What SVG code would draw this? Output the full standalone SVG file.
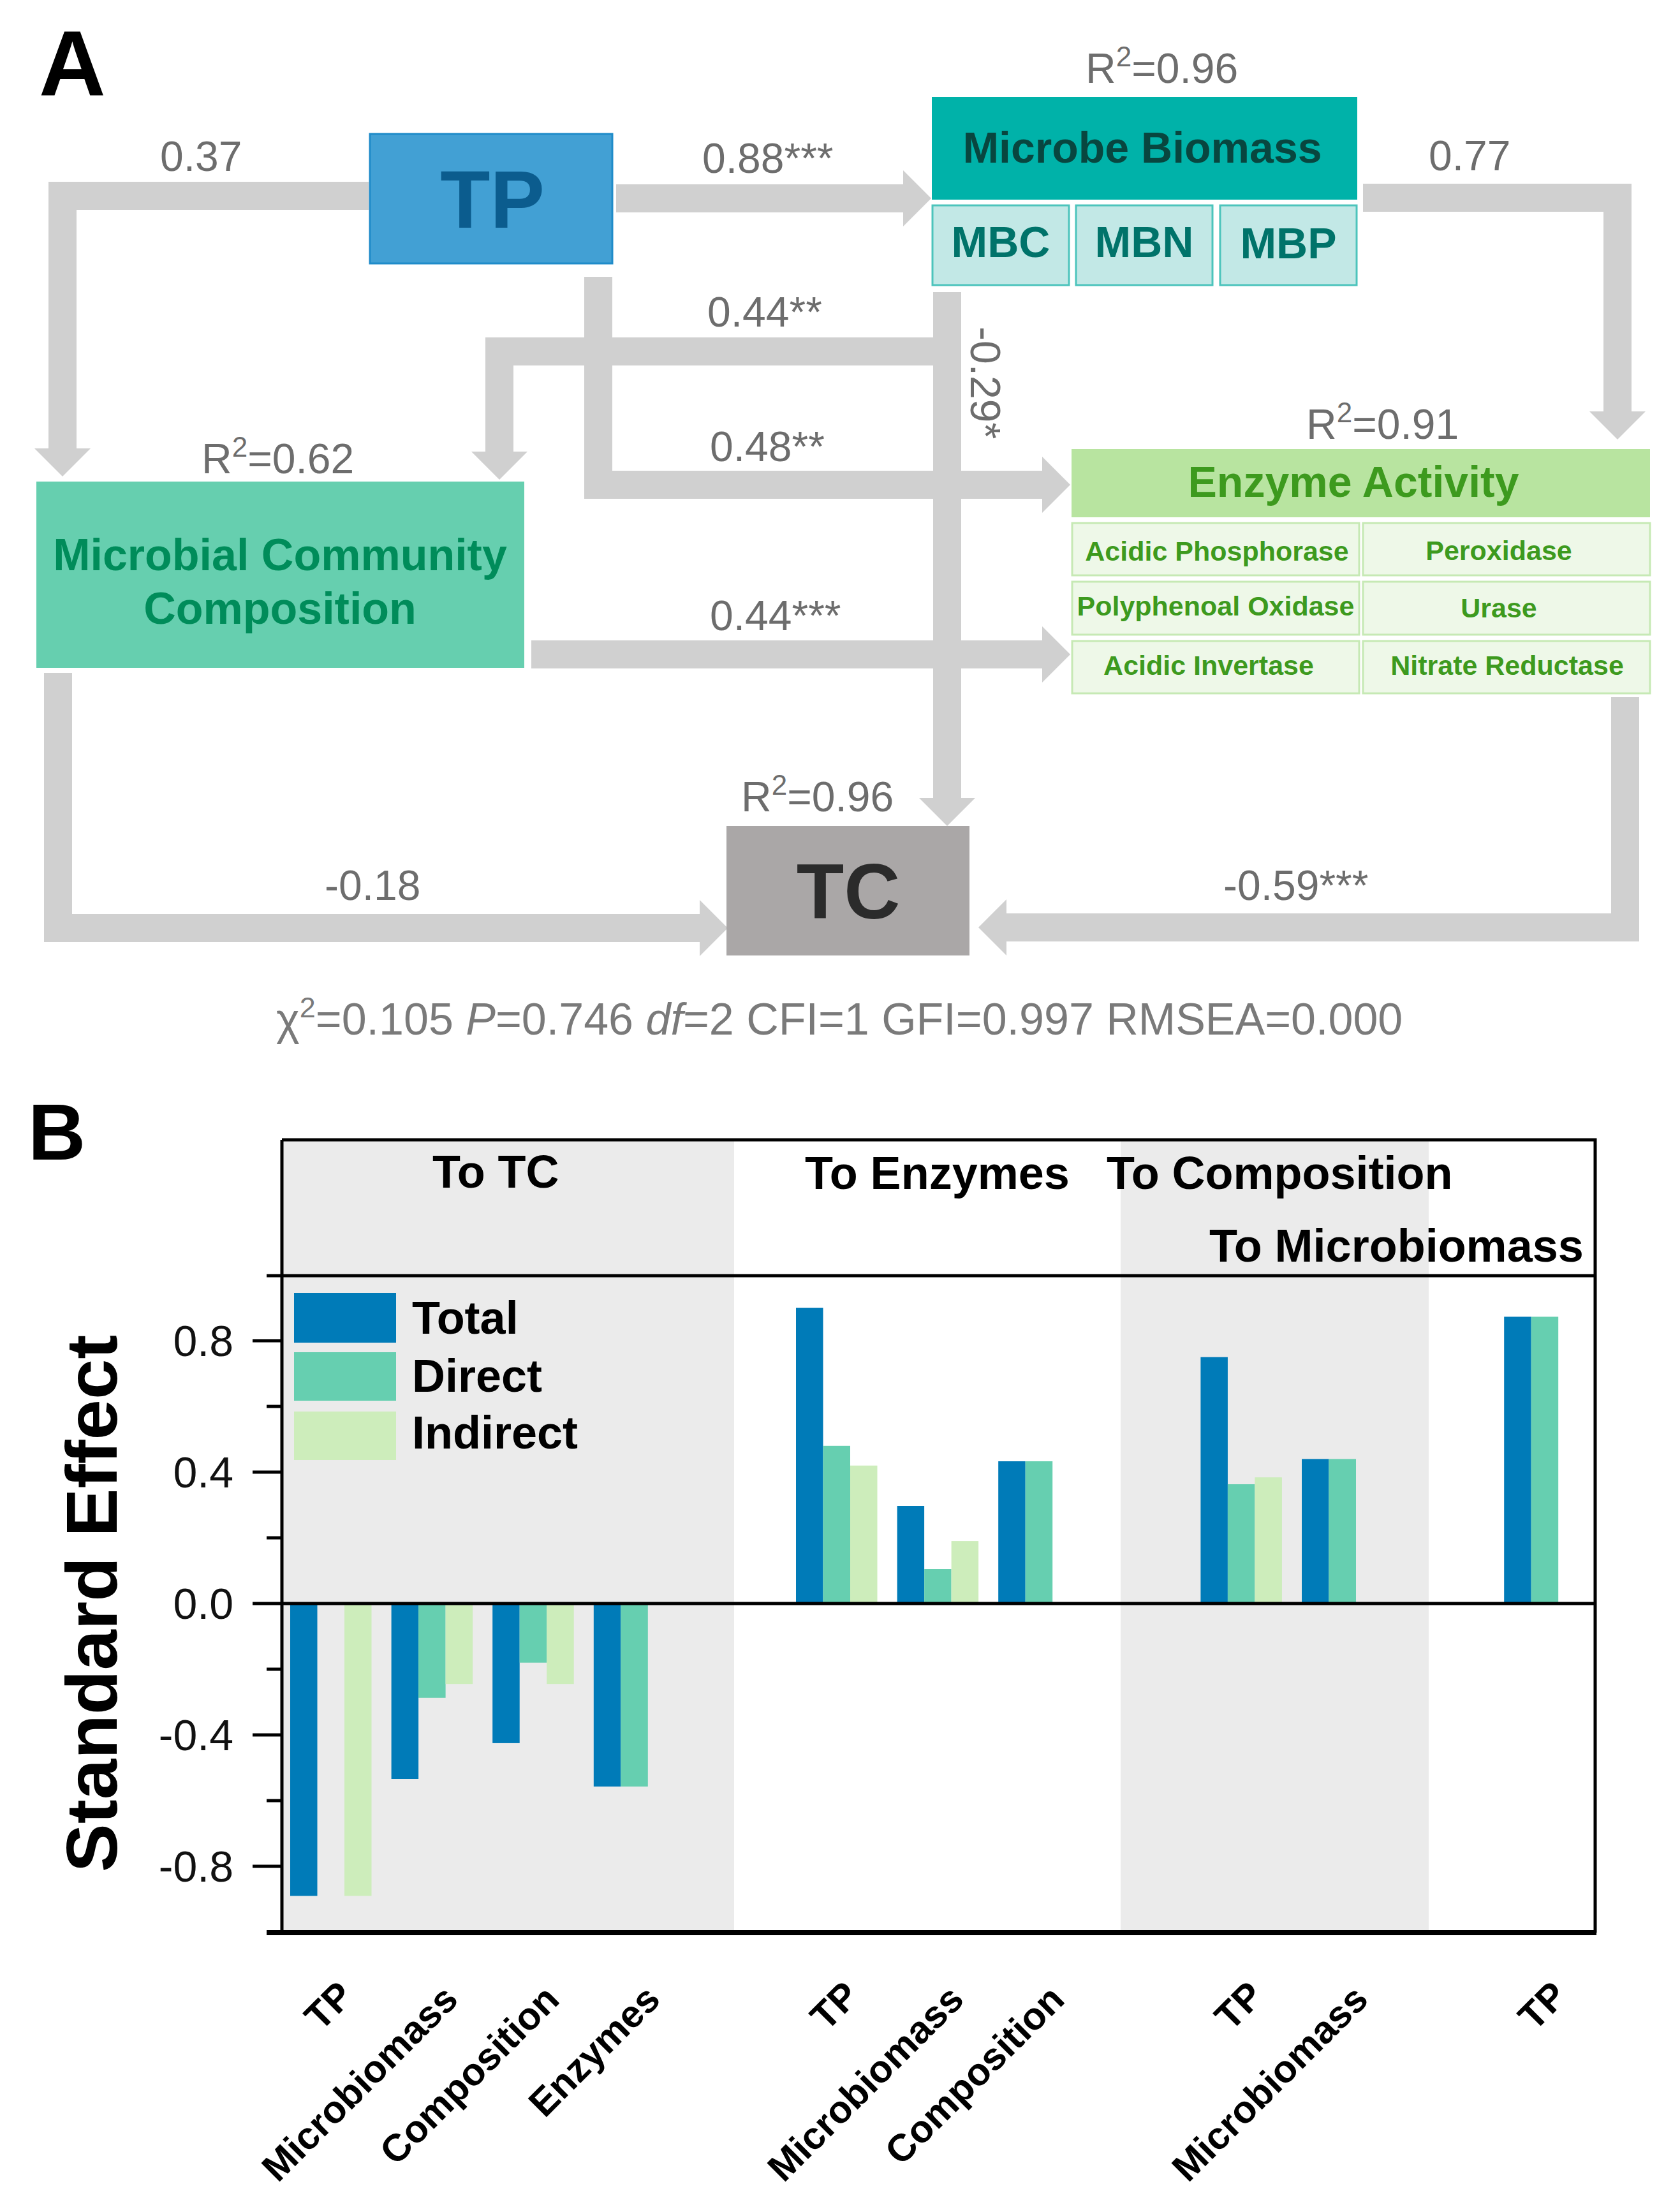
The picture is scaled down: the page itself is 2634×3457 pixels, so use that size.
<svg xmlns="http://www.w3.org/2000/svg" width="2634" height="3457" viewBox="0 0 2634 3457">
<style>
text{font-family:"Liberation Sans",Arial,sans-serif}
.lbl{font-size:66px;fill:#6d6d6d}
.b{font-weight:bold}
.conn{fill:none;stroke:#d0d0d0;stroke-width:44;stroke-linejoin:miter}
.sub{fill:#eef8e8;stroke:#c6e9b4;stroke-width:3}
.mb{fill:#c2e8e6;stroke:#4cc4bc;stroke-width:3}
.et{font-size:43px;font-weight:bold;fill:#3d9a1e;text-anchor:middle}
.mt{font-size:68px;font-weight:bold;fill:#00736a;text-anchor:middle}
.tick{font-size:68px;fill:#111;text-anchor:end}
.hdr{font-size:72px;font-weight:bold;fill:#000}
.xl{font-size:60px;font-weight:bold;fill:#000;text-anchor:end}
.tot{fill:#007bb8}
.dir{fill:#66cfb0}
.ind{fill:#cdedbb}
.shade{fill:#ebebeb}
.ax{stroke:#000;stroke-width:5;fill:none}
</style>
<defs>
<marker id="ah" markerUnits="userSpaceOnUse" markerWidth="46" markerHeight="90" refX="0" refY="44" orient="auto" viewBox="0 0 46 90">
<path d="M0,0 L44,44 L0,88 Z" fill="#d0d0d0"/>
</marker>
</defs>
<rect width="2634" height="3457" fill="#fff"/>

<!-- Panel A -->
<text x="61" y="149" font-size="145" font-weight="bold" fill="#000">A</text>

<g id="connectors">
<path class="conn" d="M578,307 H98 V703" marker-end="url(#ah)"/>
<path class="conn" d="M966,311 H1416" marker-end="url(#ah)"/>
<path class="conn" d="M938,434 V760 H1634" marker-end="url(#ah)"/>
<path class="conn" d="M1485,458 V1251" marker-end="url(#ah)"/>
<path class="conn" d="M1485,551 H783 V708" marker-end="url(#ah)"/>
<path class="conn" d="M833,1026 H1634" marker-end="url(#ah)"/>
<path class="conn" d="M2137,310 H2536 V645" marker-end="url(#ah)"/>
<path class="conn" d="M91,1055 V1455 H1097" marker-end="url(#ah)"/>
<path class="conn" d="M2548,1093 V1454 H1578" marker-end="url(#ah)"/>
</g>

<g id="edge-labels">
<text class="lbl" x="251" y="268">0.37</text>
<text class="lbl" x="1101" y="271">0.88***</text>
<text class="lbl" x="2240" y="267">0.77</text>
<text class="lbl" x="1109" y="512">0.44**</text>
<text class="lbl" x="1113" y="723">0.48**</text>
<text class="lbl" transform="translate(1522,512) rotate(90)">-0.29*</text>
<text class="lbl" x="1113" y="988">0.44***</text>
<text class="lbl" x="509" y="1411">-0.18</text>
<text class="lbl" x="1918" y="1411">-0.59***</text>
</g>

<g id="node-tp">
<rect x="580" y="210" width="380" height="203" fill="#42a0d4" stroke="#1f8bc9" stroke-width="3"/>
<text x="772" y="357" font-size="128" font-weight="bold" fill="#0b5c8e" text-anchor="middle">TP</text>
</g>

<g id="node-microbe-biomass">
<text class="lbl" x="1702" y="130">R<tspan font-size="44" dy="-26">2</tspan><tspan dy="26">=0.96</tspan></text>
<rect x="1461" y="152" width="667" height="161" fill="#00b2a9"/>
<text x="1791" y="255" font-size="68" font-weight="bold" fill="#08463f" text-anchor="middle">Microbe Biomass</text>
<rect class="mb" x="1462" y="322" width="214" height="125"/>
<rect class="mb" x="1687" y="322" width="214" height="125"/>
<rect class="mb" x="1913" y="322" width="214" height="125"/>
<text class="mt" x="1569" y="403">MBC</text>
<text class="mt" x="1794" y="403">MBN</text>
<text class="mt" x="2020" y="405">MBP</text>
</g>

<g id="node-composition">
<text class="lbl" x="316" y="742">R<tspan font-size="44" dy="-26">2</tspan><tspan dy="26">=0.62</tspan></text>
<rect x="57" y="755" width="765" height="292" fill="#66cfaf"/>
<text x="439" y="894" font-size="70" font-weight="bold" fill="#008c5a" text-anchor="middle">Microbial Community</text>
<text x="439" y="978" font-size="70" font-weight="bold" fill="#008c5a" text-anchor="middle">Composition</text>
</g>

<g id="node-enzyme">
<text class="lbl" x="2048" y="688">R<tspan font-size="44" dy="-26">2</tspan><tspan dy="26">=0.91</tspan></text>
<rect x="1680" y="704" width="907" height="107" fill="#b8e4a0"/>
<text x="2122" y="779" font-size="68" font-weight="bold" fill="#3d9a1e" text-anchor="middle">Enzyme Activity</text>
<rect class="sub" x="1681" y="820" width="450" height="82"/>
<rect class="sub" x="2137" y="820" width="450" height="82"/>
<rect class="sub" x="1681" y="912" width="450" height="83"/>
<rect class="sub" x="2137" y="912" width="450" height="83"/>
<rect class="sub" x="1681" y="1005" width="450" height="82"/>
<rect class="sub" x="2137" y="1005" width="450" height="82"/>
<text class="et" x="1908" y="879">Acidic Phosphorase</text>
<text class="et" x="2350" y="878">Peroxidase</text>
<text class="et" x="1906" y="965">Polyphenoal Oxidase</text>
<text class="et" x="2350" y="968">Urase</text>
<text class="et" x="1895" y="1058">Acidic Invertase</text>
<text class="et" x="2363" y="1058">Nitrate Reductase</text>
</g>

<g id="node-tc">
<text class="lbl" x="1162" y="1272">R<tspan font-size="44" dy="-26">2</tspan><tspan dy="26">=0.96</tspan></text>
<rect x="1139" y="1295" width="381" height="203" fill="#aaa7a7"/>
<text x="1330" y="1440" font-size="122" font-weight="bold" fill="#2b2b2b" text-anchor="middle">TC</text>
</g>

<text x="433" y="1622" font-size="70" fill="#7a7a7a">χ<tspan font-size="45" dy="-27">2</tspan><tspan dy="27">=0.105 </tspan><tspan font-style="italic">P</tspan>=0.746 <tspan font-style="italic">df</tspan>=2 CFI=1 GFI=0.997 RMSEA=0.000</text>

<!-- Panel B -->
<text x="44" y="1818" font-size="125" font-weight="bold" fill="#000">B</text>

<g id="chart">
<rect class="shade" x="444" y="1789" width="707" height="1239"/>
<rect class="shade" x="1757" y="1789" width="483" height="1239"/>

<g id="bars">
<rect class="tot" x="455.0" y="2514" width="42.5" height="458.4"/>
<rect class="ind" x="540.0" y="2514" width="42.5" height="458.4"/>
<rect class="tot" x="613.6" y="2514" width="42.5" height="275.0"/>
<rect class="dir" x="656.1" y="2514" width="42.5" height="147.8"/>
<rect class="ind" x="698.6" y="2514" width="42.5" height="126.2"/>
<rect class="tot" x="772.2" y="2514" width="42.5" height="218.9"/>
<rect class="dir" x="814.7" y="2514" width="42.5" height="92.7"/>
<rect class="ind" x="857.2" y="2514" width="42.5" height="126.2"/>
<rect class="tot" x="930.8" y="2514" width="42.5" height="286.9"/>
<rect class="dir" x="973.3" y="2514" width="42.5" height="286.9"/>

<rect class="tot" x="1248.0" y="2050.5" width="42.5" height="463.5"/>
<rect class="dir" x="1290.5" y="2266.8" width="42.5" height="247.2"/>
<rect class="ind" x="1333.0" y="2297.7" width="42.5" height="216.3"/>
<rect class="tot" x="1406.6" y="2361.0" width="42.5" height="153.0"/>
<rect class="dir" x="1449.1" y="2460.0" width="42.5" height="54.0"/>
<rect class="ind" x="1491.6" y="2416.1" width="42.5" height="97.9"/>
<rect class="tot" x="1565.2" y="2291.0" width="42.5" height="223.0"/>
<rect class="dir" x="1607.7" y="2291.0" width="42.5" height="223.0"/>

<rect class="tot" x="1882.4" y="2127.7" width="42.5" height="386.3"/>
<rect class="dir" x="1924.9" y="2327.0" width="42.5" height="187.0"/>
<rect class="ind" x="1967.4" y="2316.2" width="42.5" height="197.8"/>
<rect class="tot" x="2041.0" y="2287.4" width="42.5" height="226.6"/>
<rect class="dir" x="2083.5" y="2287.4" width="42.5" height="226.6"/>

<rect class="tot" x="2358.2" y="2064.4" width="42.5" height="449.6"/>
<rect class="dir" x="2400.7" y="2064.4" width="42.5" height="449.6"/>
</g>

<g id="legend">
<rect class="tot" x="461" y="2027" width="160" height="78"/>
<rect class="dir" x="461" y="2120" width="160" height="76"/>
<rect class="ind" x="461" y="2213" width="160" height="76"/>
<text class="hdr" x="646" y="2091">Total</text>
<text class="hdr" x="646" y="2182">Direct</text>
<text class="hdr" x="646" y="2271">Indirect</text>
</g>

<g id="axes">
<path class="ax" d="M442,1787 H2501 V3030"/>
<path class="ax" d="M442,1787 V3030"/>
<path class="ax" d="M418,2000 H2501"/>
<path class="ax" d="M396,2514 H2501"/>
<path d="M418,3030 H2503" stroke="#000" stroke-width="8"/>
<path class="ax" d="M396,2102 H442 M396,2308 H442 M396,2720 H442 M396,2926 H442 M418,2205 H442 M418,2411 H442 M418,2617 H442 M418,2823 H442"/>
</g>

<g id="tick-labels">
<text class="tick" x="366" y="2126">0.8</text>
<text class="tick" x="366" y="2332">0.4</text>
<text class="tick" x="366" y="2538">0.0</text>
<text class="tick" x="366" y="2744">-0.4</text>
<text class="tick" x="366" y="2950">-0.8</text>
</g>

<text transform="translate(183,2514) rotate(-90)" font-size="114" font-weight="bold" fill="#000" text-anchor="middle">Standard Effect</text>

<g id="headers">
<text class="hdr" x="678" y="1862">To TC</text>
<text class="hdr" x="1262" y="1864">To Enzymes</text>
<text class="hdr" x="1735" y="1864">To Composition</text>
<text class="hdr" x="1896" y="1978">To Microbiomass</text>
</g>

<g id="x-labels">
<text class="xl" transform="translate(557,3132) rotate(-45)">TP</text>
<text class="xl" transform="translate(721,3138) rotate(-45)">Microbiomass</text>
<text class="xl" transform="translate(880,3138) rotate(-45)">Composition</text>
<text class="xl" transform="translate(1038,3138) rotate(-45)">Enzymes</text>
<text class="xl" transform="translate(1350,3132) rotate(-45)">TP</text>
<text class="xl" transform="translate(1514,3138) rotate(-45)">Microbiomass</text>
<text class="xl" transform="translate(1672,3138) rotate(-45)">Composition</text>
<text class="xl" transform="translate(1984,3132) rotate(-45)">TP</text>
<text class="xl" transform="translate(2148,3138) rotate(-45)">Microbiomass</text>
<text class="xl" transform="translate(2460,3132) rotate(-45)">TP</text>
</g>
</g>
</svg>
